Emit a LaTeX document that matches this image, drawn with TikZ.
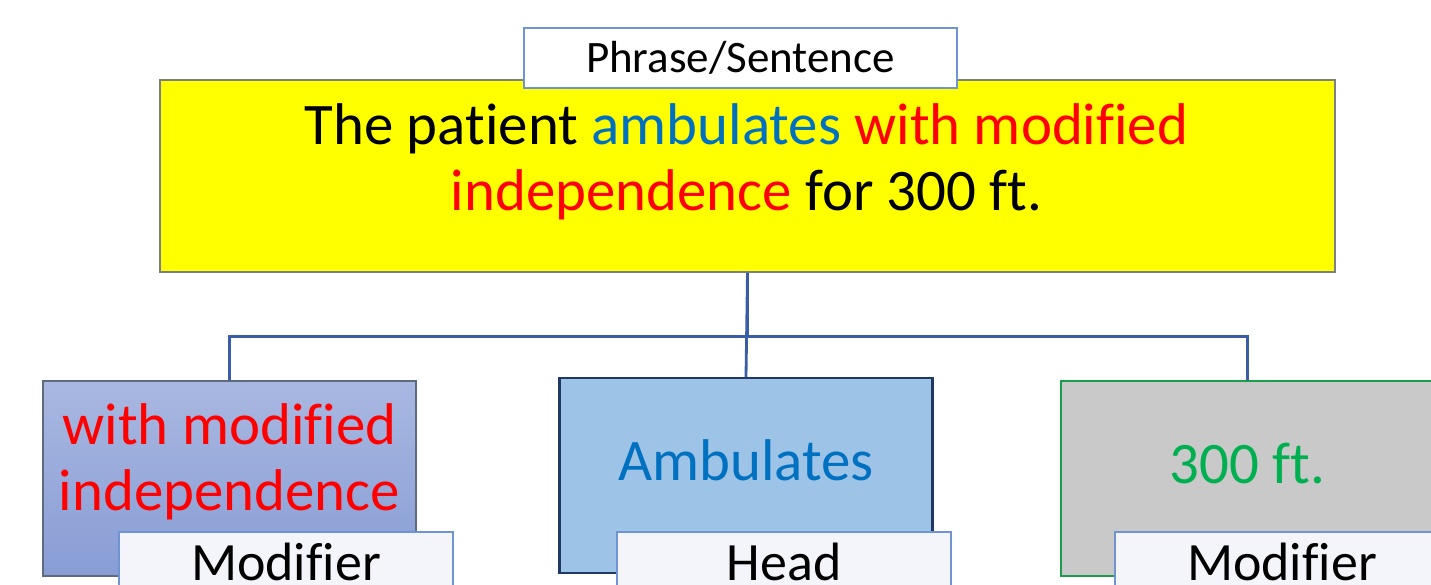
\documentclass[tikz,border=0pt]{standalone}
\usepackage{fontspec}
\setmainfont[Ligatures=NoCommon]{Carlito}
\usepackage{xcolor}
\usetikzlibrary{positioning, calc}

\definecolor{sentyellow}{HTML}{FFFF00}
\definecolor{framegray}{HTML}{7F7F7F}
\definecolor{connblue}{HTML}{3A5DA8}
\definecolor{wordblue}{HTML}{0070C0}
\definecolor{wordred}{HTML}{FF0000}
\definecolor{wordgreen}{HTML}{00B050}
\definecolor{modtop}{HTML}{A9B8E1}
\definecolor{modbot}{HTML}{889DD5}
\definecolor{modframe}{HTML}{5E6A80}
\definecolor{headfill}{HTML}{9DC3E6}
\definecolor{headframe}{HTML}{1F3864}
\definecolor{ftfill}{HTML}{C9C9C9}
\definecolor{ftframe}{HTML}{1E9B4B}
\definecolor{tagframe}{HTML}{6F93D3}
\definecolor{tagfill}{HTML}{F4F5FA}

\begin{document}
\begin{tikzpicture}[
    bigtext/.style={font=\fontsize{33.5}{37.5}\selectfont, align=center, inner sep=0pt},
    wordbox/.style={minimum width=7.46cm, minimum height=3.9cm, inner sep=0pt},
    tag/.style={draw=tagframe, fill=tagfill, line width=0.8pt, minimum width=6.68cm,
        minimum height=1.2cm, inner sep=0pt, font=\fontsize{30.7}{36}\selectfont},
    conn/.style={connblue, line width=1.6pt},
]
\clip (0,0) rectangle (28.62,11.68);
\useasboundingbox (0,0) rectangle (28.62,11.68);
% the sentence
\node[draw=framegray, fill=sentyellow, line width=1pt, minimum width=23.5cm,
      minimum height=3.84cm] (sent) at (14.95,8.16) {};
\node[bigtext] (senttxt) at (14.93,8.44)
      {The patient \textcolor{wordblue}{ambulates} \textcolor{wordred}{with modified}\\
       \textcolor{wordred}{independence} for 300 ft.};
\node[draw=tagframe, fill=white, line width=0.8pt, minimum width=8.66cm,
      minimum height=1.2cm, inner sep=0pt, font=\fontsize{25.6}{30}\selectfont]
      (senttag) at (14.81,10.52) {Phrase/Sentence};
% the three parts
\node[wordbox, draw=modframe, line width=0.9pt, top color=modtop, bottom color=modbot]
      (mod1) at (4.59,2.11) {};
\node[wordbox, draw=headframe, line width=1.4pt, fill=headfill]
      (head) at (14.92,2.17) {};
\node[wordbox, draw=ftframe, line width=1.2pt, fill=ftfill]
      (mod2) at (24.95,2.11) {};
\node[bigtext, text=wordred] (mod1txt) at ([yshift=0.34cm]mod1.center)
      {with modified\\independence};
\node[bigtext, text=wordblue] (headtxt) at ([yshift=0.3cm]head.center) {Ambulates};
\node[bigtext, text=wordgreen] (mod2txt) at ([yshift=0.3cm]mod2.center) {300 ft.};
% connectors
\draw[conn] (sent.south) -- (head.north);
\draw[conn] (sent.south) -- ++(0,-1.28) coordinate (bus);
\draw[conn] (mod1.north) |- (bus) -| (mod2.north);
% role tags
\node[tag] (mod1tag) at (5.72,0.44) {Modifier};
\node[tag] (headtag) at (15.68,0.44) {Head};
\node[tag] (mod2tag) at (25.64,0.44) {Modifier};
\end{tikzpicture}
\end{document}
